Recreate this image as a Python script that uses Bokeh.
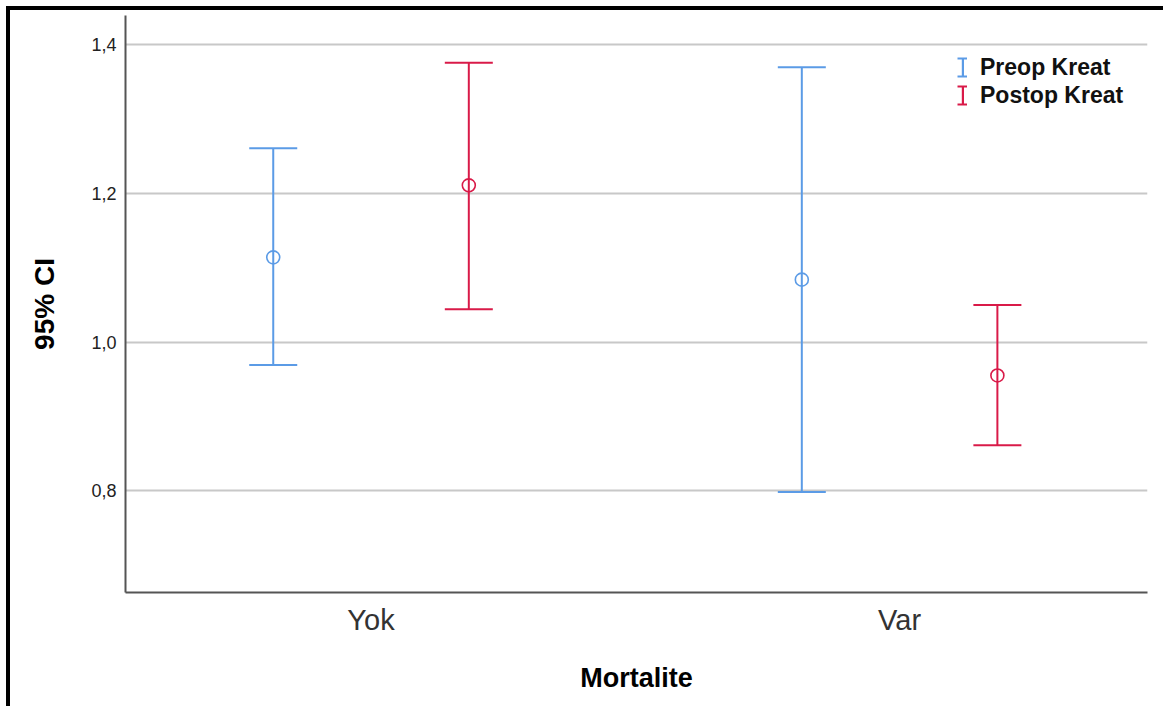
from bokeh.plotting import figure
from bokeh.models import (ColumnDataSource, Whisker, TeeHead, Range1d, FixedTicker,
                          Legend, LegendItem)
from bokeh.embed import file_html
from bokeh.resources import INLINE

# ---- data ----
categories = ["Yok", "Var"]
series = ["Preop Kreat", "Postop Kreat"]
preop_mean = [1.114, 1.084]
preop_lower = [0.969, 0.798]
preop_upper = [1.261, 1.370]
postop_mean = [1.211, 0.955]
postop_lower = [1.044, 0.861]
postop_upper = [1.376, 1.050]
y_ticks = [0.8, 1.0, 1.2, 1.4]
y_tick_labels = ["0,8", "1,0", "1,2", "1,4"]

colors = ["#5b9be6", "#d91a48"]
offsets = [-0.185, 0.185]
FONT = "Liberation Sans"

p = figure(width=1157, height=700, output_backend="svg", toolbar_location=None,
           x_range=Range1d(-0.4645, 1.469), y_range=Range1d(0.6627, 1.4397),
           min_border_left=115, min_border_right=20, min_border_top=5,
           min_border_bottom=118)
p.outline_line_color = None
p.background_fill_color = "white"
p.border_fill_color = "white"
p.styles = {"border-top": "4px solid black", "border-left": "4px solid black",
            "margin-top": "6px", "margin-left": "6px"}

all_data = [(preop_mean, preop_lower, preop_upper), (postop_mean, postop_lower, postop_upper)]
stem_items, cap_items_top, cap_items_bot = [], [], []
for k, (name, (m, lo, up)) in enumerate(zip(series, all_data)):
    xs = [i + offsets[k] for i in range(len(categories))]
    src = ColumnDataSource(dict(x=xs, mean=m, lower=lo, upper=up, cat=categories))
    w = Whisker(base="x", upper="upper", lower="lower", source=src, dimension="height",
                line_color=colors[k], line_width=2,
                upper_head=TeeHead(size=48, line_color=colors[k], line_width=2),
                lower_head=TeeHead(size=48, line_color=colors[k], line_width=2))
    p.add_layout(w)
    p.scatter("x", "mean", source=src, marker="circle", size=13, fill_color=None,
              line_color=colors[k], line_width=1.6)
    # legend-only renderers (hidden in the plot) forming an "I" error-bar icon
    stem = p.vbar(x="x", top="upper", bottom="lower", width=0.004, source=src,
                  fill_color=colors[k], line_color=None, visible=False)
    cap = p.line("x", "upper", source=src, line_color=colors[k], line_width=2,
                 visible=False)
    stem_items.append(LegendItem(label=name, renderers=[stem]))
    cap_items_top.append(LegendItem(label="", renderers=[cap]))
    cap_items_bot.append(LegendItem(label="", renderers=[cap]))

common = dict(border_line_color=None, background_fill_alpha=0, label_text_font=FONT,
              label_text_font_size="23px", label_text_font_style="bold",
              label_text_color="#111111", label_height=28, spacing=0, padding=4,
              margin=0)
legend = Legend(items=stem_items, location=(836, 483), glyph_width=3, glyph_height=22,
                label_standoff=16, **common)
legend_top = Legend(items=cap_items_top, location=(832, 492), glyph_width=10,
                    glyph_height=22, label_standoff=0, **common)
legend_bot = Legend(items=cap_items_bot, location=(832, 474), glyph_width=10,
                    glyph_height=22, label_standoff=0, **common)
p.add_layout(legend)
p.add_layout(legend_top)
p.add_layout(legend_bot)

# axes
p.xaxis.ticker = FixedTicker(ticks=list(range(len(categories))))
p.xaxis.major_label_overrides = {i: c for i, c in enumerate(categories)}
p.yaxis.ticker = FixedTicker(ticks=y_ticks)
p.yaxis.major_label_overrides = dict(zip(y_ticks, y_tick_labels))

for ax in (p.xaxis[0], p.yaxis[0]):
    ax.axis_line_color = "#555555"
    ax.axis_line_width = 2
    ax.major_tick_line_color = None
    ax.minor_tick_line_color = None
    ax.major_tick_out = 0
    ax.major_tick_in = 0
    ax.major_label_text_font = FONT
    ax.axis_label_text_font = FONT
    ax.axis_label_text_font_style = "bold"
    ax.axis_label_text_font_size = "27px"
    ax.axis_label_text_color = "#000000"

p.xaxis.major_label_text_font_size = "29px"
p.xaxis.major_label_text_color = "#333333"
p.xaxis.major_label_standoff = 11
p.xaxis.axis_label = "Mortalite"
p.xaxis.axis_label_standoff = 24

p.yaxis.major_label_text_font_size = "18px"
p.yaxis.major_label_text_color = "#222222"
p.yaxis.major_label_standoff = 9
p.yaxis.axis_label = "95% CI"
p.yaxis.axis_label_text_font_size = "28px"
p.yaxis.axis_label_standoff = 28

p.xgrid.visible = False
p.ygrid.ticker = FixedTicker(ticks=y_ticks)
p.ygrid.grid_line_color = "#c8c8c8"
p.ygrid.grid_line_width = 2

open("out.html", "w").write(file_html(p, INLINE))
